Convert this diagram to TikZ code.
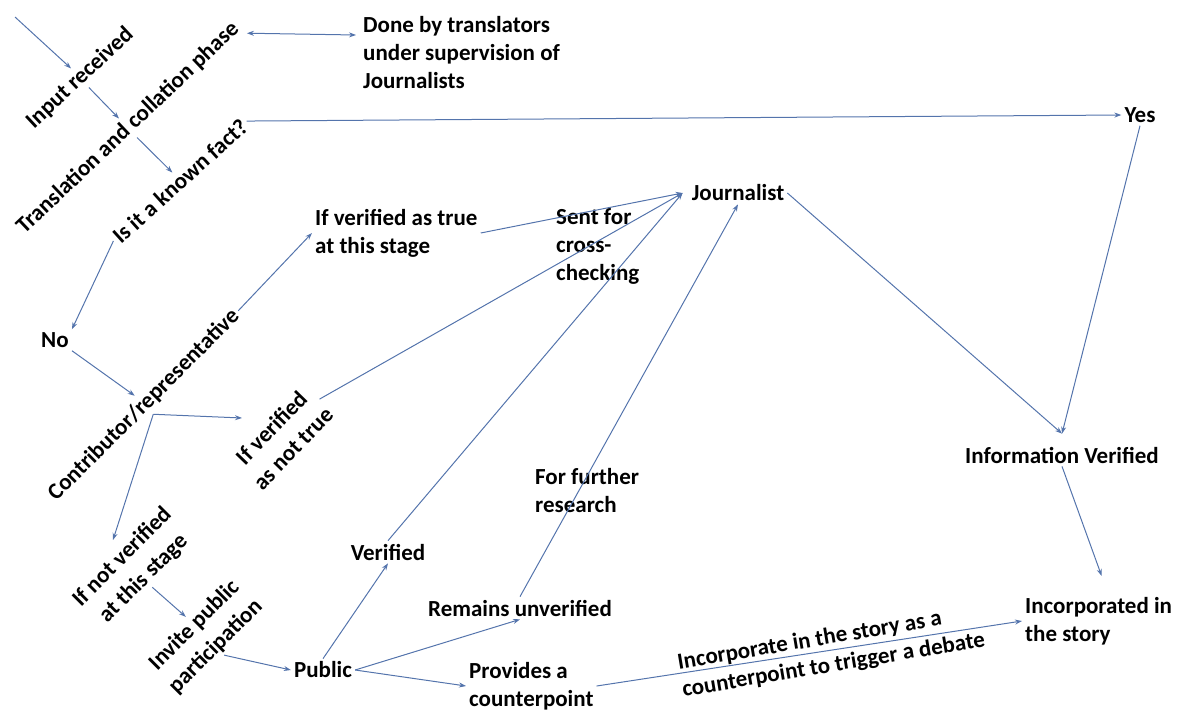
\documentclass[tikz,border=0pt]{standalone}
\usepackage{fontspec}
\setmainfont{Carlito}
\usetikzlibrary{arrows.meta,calc}
\definecolor{lineblue}{RGB}{84,116,172}
\begin{document}
\begin{tikzpicture}[x=1pt,y=-1pt,
  lbl/.style={font=\fontsize{23}{28}\selectfont\bfseries, inner sep=3pt},
  rlbl/.style={font=\fontsize{23}{30}\selectfont\bfseries, inner sep=2pt, align=center},
  arr/.style={draw=lineblue, line width=1pt, -{Stealth[length=7pt,width=5pt]}},
  darr/.style={draw=lineblue, line width=1pt, {Stealth[length=7pt,width=5pt]}-{Stealth[length=7pt,width=5pt]}}]
\useasboundingbox (0,0) rectangle (1179,710);
% nodes
\node[lbl, rotate=43] (input) at (80,78) {Input received};
\node[lbl, rotate=43.5] (trans) at (128,128) {Translation and collation phase};
\node[lbl, rotate=42] (known) at (180,181) {Is it a known fact?};
\node[lbl, anchor=west, align=left] (done) at (360,53) {Done by translators\\under supervision of\\Journalists};
\node[lbl] (yes) at (1140,115) {Yes};
\node[lbl] (jour) at (738,193) {Journalist};
\node[lbl] (infov) at (1062,455) {Information Verified};
\node[lbl, anchor=west, align=left] (incorp) at (1022,621) {Incorporated in\\the story};
\node[lbl] (no) at (55,340) {No};
\node[lbl, rotate=45] (contrib) at (144,405) {Contributor/representative};
\node[lbl, anchor=west, align=left] (iftrue) at (312,233) {If verified as true\\at this stage};
\node[lbl, anchor=west, align=left] (sent) at (553,246) {Sent for\\cross-\\checking};
\node[rlbl, rotate=46] (ifnt) at (282,438) {If verified\\as not true};
\node[rlbl, rotate=45] (ifnv) at (133,568) {If not verified\\at this stage};
\node[rlbl, rotate=45] (invite) at (205,636) {Invite public\\participation};
\node[lbl] (public) at (323,670) {Public};
\node[lbl] (verified) at (388,552) {Verified};
\node[lbl] (remains) at (520,608) {Remains unverified};
\node[lbl, anchor=west, align=left] (further) at (532,491) {For further\\research};
\node[lbl, anchor=west, align=left] (provides) at (466,686) {Provides a\\counterpoint};
\node[lbl, anchor=west, align=left, rotate=9.5, inner sep=0pt] (debate) at (680,677) {Incorporate in the story as a\\counterpoint to trigger a debate};
% helper coordinates
\coordinate (start) at (15,17);
\coordinate (jin) at ($(jour.west)+(-6,0)$);
\coordinate (ivin) at ($(infov.north)+(0,-10)$);
% connectors
\draw[arr] (start) -- (input.north);
\draw[arr] (input.south) -- (trans.north);
\draw[arr] (trans.south) -- (known.north);
\draw[darr] (trans.south east) -- ($(done.west)+(-4,-18)$);
\draw[arr] (known.east) -- (yes.west);
\draw[arr] (yes.south) -- (ivin);
\draw[arr] (jour.east) -- (ivin);
\draw[arr] (infov.south) -- ($(incorp.north)+(3,-18)$);
\draw[arr] (known.west) -- (no.north east);
\draw[arr] (no.south east) -- (contrib.north);
\draw[arr] (contrib.east) -- (iftrue.west);
\draw[arr] (iftrue.east) -- (jin);
\draw[arr] (contrib.south) -- ($(ifnt.center)+(-40,-20)$);
\draw[arr] (contrib.south) -- ($(ifnv.center)+(-20,-28)$);
\draw[arr] (ifnt.east) -- (jin);
\draw[arr] (ifnv.south) -- (invite.north);
\draw[arr] (invite.south) -- (public.west);
\draw[arr] (public.north) -- (verified.south);
\draw[arr] (verified.north) -- (jin);
\draw[arr] (public.east) -- (remains.south);
\draw[arr] (remains.north) -- (jour.south);
\draw[arr] (public.east) -- (provides.west);
\draw[arr] (provides.east) -- (incorp.west);
\end{tikzpicture}
\end{document}
